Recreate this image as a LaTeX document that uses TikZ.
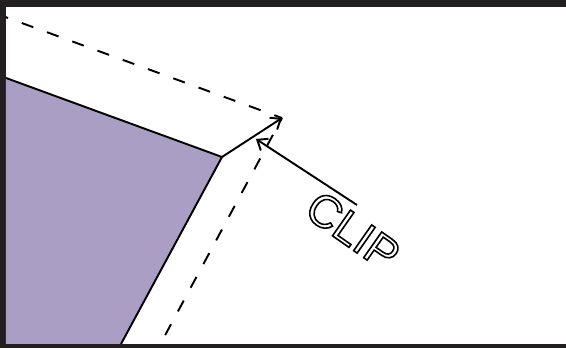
\documentclass[tikz,border=0pt]{standalone}
\usepackage{fontspec}
\usetikzlibrary{arrows.meta, calc}
\newfontfamily\clipfont{Liberation Sans}
\definecolor{framegray}{RGB}{35,31,32}
\definecolor{regionpurple}{RGB}{171,158,197}
\newcommand\hollowtext[1]{\special{pdf:literal direct 1 Tr 0.9 w}#1\special{pdf:literal direct 0 Tr}}

\begin{document}
\begin{tikzpicture}[x=0.02cm,y=-0.02cm,
    edge/.style={line width=1.1pt,line join=miter},
    offsetline/.style={line width=1.1pt,dash pattern=on 7pt off 8.3pt},
    pointer/.style={line width=1.1pt,-{Straight Barb[length=5pt,width=8pt,line width=1.1pt]}}]
    \useasboundingbox (0,0) rectangle (566,348);
    % frame
    \fill[framegray] (0,0) rectangle (566,348);
    \fill[white] (6,7) rectangle (566,344);
    \begin{scope}
      \clip (6,7) rectangle (566,344);
      % region corners
      \coordinate (p1) at (6,78);
      \coordinate (p2) at (222,157);
      \coordinate (p3) at (121,344);
      % offset corners
      \coordinate (q1) at (-4,13.6);
      \coordinate (q2) at (282,118);
      \coordinate (q3) at (155,354);
      % clipped region
      \fill[regionpurple] (p1) -- (p2) -- (p3) -- (6,344) -- cycle;
      \draw[edge] (p1) -- (p2) -- (p3);
      % offset outline
      \draw[offsetline,dash phase=15pt] (q1) -- (q2);
      \draw[offsetline,dash phase=4.4pt] (q2) -- (q3);
      % arrows
      \draw[pointer] (p2) -- (q2);
      \coordinate (tail) at (357,205);
      \coordinate (head) at (256,139);
      \draw[pointer] (tail) -- (head);
    \end{scope}
    % label
    \node[font=\clipfont\fontsize{26}{30}\selectfont,rotate=-35,
          inner sep=0pt] (cliplabel) at (353,231) {\hollowtext{CLIP}};
\end{tikzpicture}
\end{document}
